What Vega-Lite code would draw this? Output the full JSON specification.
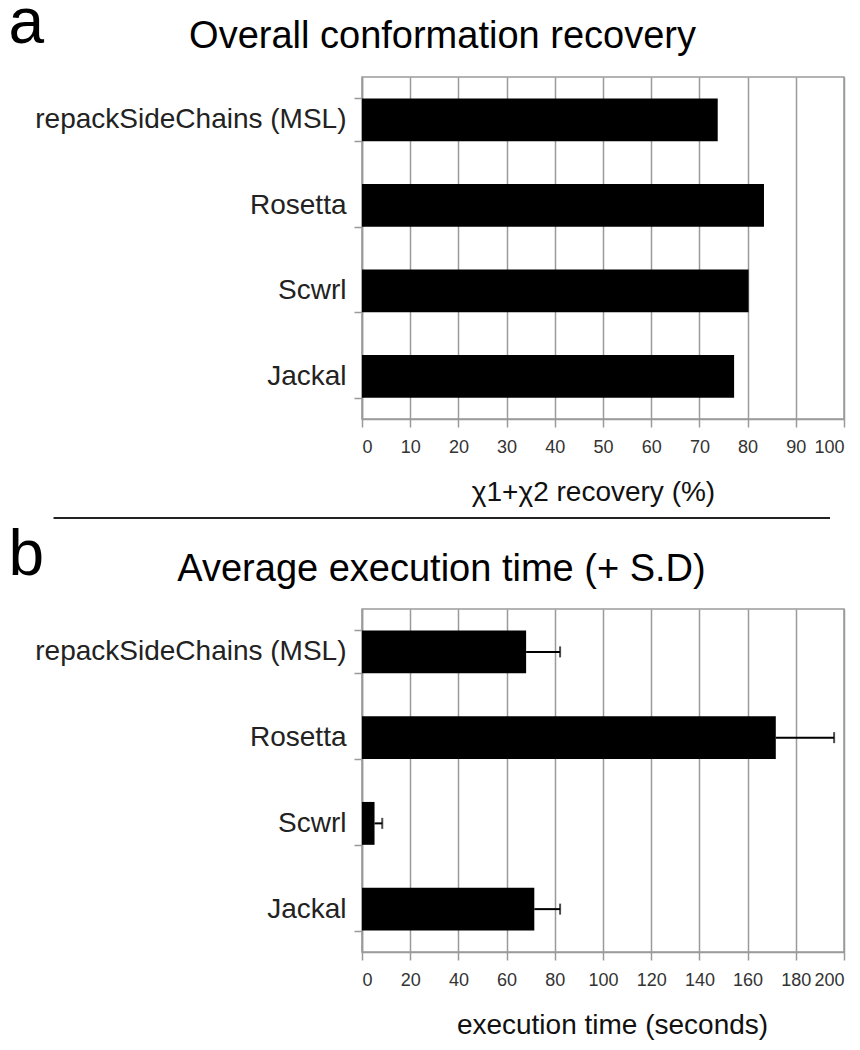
{
  "$schema": "https://vega.github.io/schema/vega-lite/v6.json",
  "background": "white",
  "padding": {"left": 7, "top": -10, "right": 5, "bottom": 5},
  "spacing": 3,
  "config": {
    "font": "Liberation Sans",
    "view": {"stroke": "#9a9a9a", "strokeWidth": 1.5},
    "axis": {
      "domainColor": "#9a9a9a",
      "domainWidth": 1.5,
      "tickColor": "#9a9a9a",
      "tickWidth": 1.5,
      "gridColor": "#9a9a9a",
      "gridWidth": 1.5,
      "gridOpacity": 1,
      "titleFontWeight": "normal",
      "titleColor": "#111",
      "labelLimit": 0
    }
  },
  "vconcat": [
    {
      "width": 482,
      "height": 342,
      "data": {"values": [
        {"method": "repackSideChains (MSL)", "recovery": 73.8},
        {"method": "Rosetta", "recovery": 83.4},
        {"method": "Scwrl", "recovery": 80.2},
        {"method": "Jackal", "recovery": 77.2}
      ]},
      "encoding": {
        "y": {
          "field": "method", "type": "nominal", "sort": null,
          "scale": {"paddingInner": 0.5, "paddingOuter": 0.25},
          "axis": {
            "title": "a", "titleAngle": 0, "titleFontSize": 64, "titleAlign": "left",
            "titleBaseline": "alphabetic", "titleX": -354, "titleY": -35, "titleColor": "black",
            "labelFontSize": 28, "labelColor": "#222", "labelPadding": 8,
            "tickSize": 8, "tickBand": "extent", "grid": false
          }
        }
      },
      "layer": [
        {
          "mark": {"type": "bar", "color": "black"},
          "encoding": {
            "x": {
              "field": "recovery", "type": "quantitative", "scale": {"domain": [0, 100]},
              "axis": {
                "title": "χ1+χ2 recovery (%)", "values": [0,10,20,30,40,50,60,70,80,90,100],
                "tickSize": 8, "labelFontSize": 18, "labelColor": "#333", "labelPadding": 11,
                "titleFontSize": 28, "titlePadding": 22, "titleX": 231, "grid": true
              }
            }
          }
        },
        {
          "mark": {"type": "bar", "opacity": 0},
          "encoding": {
            "x": {
              "field": "recovery", "type": "quantitative",
              "axis": {
                "orient": "top", "title": "Overall conformation recovery", "labels": false,
                "ticks": false, "grid": false, "domain": false,
                "titleX": 80, "titleY": -30, "titleAlign": "center", "titleBaseline": "alphabetic",
                "titleFontSize": 38, "titleColor": "black"
              }
            }
          }
        }
      ],
      "resolve": {"axis": {"x": "independent"}}
    },
    {
      "width": 482,
      "height": 8,
      "view": {"stroke": null},
      "data": {"values": [{"from": -64, "to": 97.1, "level": 0}]},
      "mark": {"type": "rule", "color": "#222", "strokeWidth": 2},
      "encoding": {
        "x": {"field": "from", "type": "quantitative", "scale": {"domain": [0, 100]}, "axis": null},
        "x2": {"field": "to"},
        "y": {"field": "level", "type": "quantitative", "scale": {"domain": [0, 1]}, "axis": null}
      }
    },
    {
      "width": 482,
      "height": 343,
      "data": {"values": [
        {"method": "repackSideChains (MSL)", "time": 68.1, "upper": 82.2},
        {"method": "Rosetta", "time": 171.7, "upper": 195.9},
        {"method": "Scwrl", "time": 5.2, "upper": 8.4},
        {"method": "Jackal", "time": 71.5, "upper": 82.2}
      ]},
      "encoding": {
        "y": {
          "field": "method", "type": "nominal", "sort": null,
          "scale": {"paddingInner": 0.5, "paddingOuter": 0.25},
          "axis": {
            "title": "b", "titleAngle": 0, "titleFontSize": 64, "titleAlign": "left",
            "titleBaseline": "alphabetic", "titleX": -354, "titleY": -35, "titleColor": "black",
            "labelFontSize": 28, "labelColor": "#222", "labelPadding": 8,
            "tickSize": 8, "tickBand": "extent", "grid": false
          }
        }
      },
      "layer": [
        {
          "mark": {"type": "bar", "color": "black"},
          "encoding": {
            "x": {
              "field": "time", "type": "quantitative", "scale": {"domain": [0, 200]},
              "axis": {
                "title": "execution time (seconds)", "values": [0,20,40,60,80,100,120,140,160,180,200],
                "tickSize": 8, "labelFontSize": 18, "labelColor": "#333", "labelPadding": 11,
                "titleFontSize": 28, "titlePadding": 22, "titleX": 250, "grid": true
              }
            }
          }
        },
        {
          "mark": {"type": "rule", "color": "black", "strokeWidth": 2},
          "encoding": {
            "x": {"field": "time", "type": "quantitative", "axis": null},
            "x2": {"field": "upper"}
          }
        },
        {
          "mark": {"type": "tick", "color": "black", "thickness": 2, "size": 11},
          "encoding": {
            "x": {"field": "upper", "type": "quantitative", "axis": null}
          }
        },
        {
          "mark": {"type": "bar", "opacity": 0},
          "encoding": {
            "x": {
              "field": "time", "type": "quantitative",
              "axis": {
                "orient": "top", "title": "Average execution time (+ S.D)", "labels": false,
                "ticks": false, "grid": false, "domain": false,
                "titleX": 79, "titleY": -29, "titleAlign": "center", "titleBaseline": "alphabetic",
                "titleFontSize": 38, "titleColor": "black"
              }
            }
          }
        }
      ],
      "resolve": {"axis": {"x": "independent"}}
    }
  ]
}
